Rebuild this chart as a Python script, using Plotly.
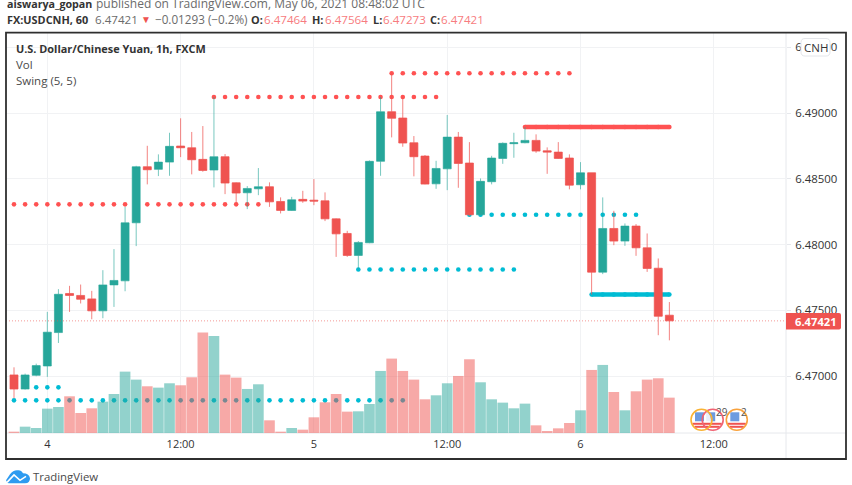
import plotly.graph_objects as go

hours = list(range(-3, 57))
opens = [6.47010,6.46903,6.47007,6.47078,6.47332,6.47629,6.47614,6.47588,6.47497,6.47694,
         6.47725,6.48166,6.48592,6.48572,6.48627,6.48749,6.48736,6.48648,6.48567,6.48668,
         6.48470,6.48394,6.48424,6.48440,6.48328,6.48260,6.48344,6.48338,6.48333,6.48196,
         6.48085,6.47918,6.48014,6.48633,6.49010,6.48962,6.48774,6.48673,6.48462,6.48576,
         6.48817,6.48620,6.48227,6.48478,6.48655,6.48767,6.48774,6.48792,6.48713,6.48703,
         6.48658,6.48455,6.48546,6.47791,6.48123,6.48027,6.48141,6.47976,6.47821,6.47464]
highs = [6.47068,6.47020,6.47096,6.47489,6.47662,6.47687,6.47697,6.47649,6.47806,6.47966,
         6.48287,6.48599,6.48751,6.48686,6.48850,6.48960,6.48856,6.48901,6.49122,6.48688,
         6.48473,6.48445,6.48582,6.48473,6.48359,6.48363,6.48409,6.48498,6.48397,6.48199,
         6.48105,6.48027,6.48640,6.49122,6.49302,6.49122,6.48825,6.48681,6.48637,6.48985,
         6.48856,6.48779,6.48503,6.48675,6.48777,6.48850,6.48894,6.48838,6.48739,6.48779,
         6.48686,6.48627,6.48546,6.48359,6.48257,6.48161,6.48156,6.48085,6.47895,6.47564]
lows = [6.46833,6.46899,6.47000,6.46995,6.47253,6.47489,6.47553,6.47433,6.47441,6.47527,
        6.47646,6.47989,6.48458,6.48521,6.48523,6.48665,6.48534,6.48554,6.48435,6.48384,
        6.48308,6.48270,6.48376,6.48287,6.48237,6.48257,6.48318,6.48300,6.48179,6.47907,
        6.47907,6.47811,6.48011,6.48523,6.48815,6.48744,6.48519,6.48458,6.48424,6.48414,
        6.48432,6.48217,6.48222,6.48458,6.48614,6.48660,6.48770,6.48698,6.48538,6.48652,
        6.48420,6.48420,6.47621,6.47776,6.47996,6.47991,6.47915,6.47793,6.47312,6.47273]
closes = [6.46903,6.47010,6.47081,6.47335,6.47623,6.47614,6.47585,6.47497,6.47694,6.47728,
          6.48166,6.48592,6.48569,6.48627,6.48747,6.48736,6.48645,6.48564,6.48668,6.48468,
          6.48392,6.48427,6.48440,6.48325,6.48260,6.48341,6.48331,6.48331,6.48196,6.48082,
          6.47918,6.48017,6.48633,6.49010,6.48960,6.48772,6.48668,6.48460,6.48579,6.48817,
          6.48617,6.48227,6.48481,6.48658,6.48770,6.48774,6.48792,6.48711,6.48703,6.48655,
          6.48452,6.48546,6.47791,6.48123,6.48027,6.48141,6.47976,6.47819,6.47456,6.47421]
volumes = [4,19,15,73,78,110,60,74,94,117,184,160,140,136,149,143,167,301,291,175,
           166,132,146,38,4,15,10,47,92,117,64,65,87,186,223,186,160,101,113,149,
           171,221,152,101,91,74,88,23,6,14,30,68,189,204,123,68,125,160,164,106]

swing_levels = [
    (6.48306, -3, 7, "red"), (6.48306, 9, 19, "red"),
    (6.49122, 15, 35, "red"), (6.49302, 31, 47, "red"),
    (6.48227, 38, 53, "teal"), (6.47811, 28, 42, "teal"),
    (6.46916, -1, 1, "teal"), (6.46817, -3, 32, "teal"),
]
swing_thick = [(6.48894, 43, 56, "red"), (6.47621, 49, 56, "teal")]

ytick_values = [6.47, 6.475, 6.48, 6.485, 6.49, 6.495]
xtick_values = [0, 12, 24, 36, 48, 60]
xtick_labels = ["4", "12:00", "5", "12:00", "6", "12:00"]
last_price = 6.47421

GREEN, RED = "#26A69A", "#EF5350"
DOT = {"red": "#FF5252", "teal": "#00BCD4"}
W, H = 852, 485
L, R, T, B = 6, 786, 33, 432.7
FONT = "Open Sans"
YR = [6.46569, 6.49608]

def px(x): return (x - L) / (R - L)
def py(y): return (B - y) / (B - T)

fig = go.Figure()

for lvl, a, b, c in swing_levels:
    xs = list(range(a, b + 1))
    fig.add_trace(go.Scatter(x=xs, y=[lvl] * len(xs), mode="markers", yaxis="y",
                             marker=dict(size=4.6, color=DOT[c], line=dict(width=0)),
                             showlegend=False, hoverinfo="skip"))
for lvl, a, b, c in swing_thick:
    xs = list(range(a, b + 1))
    fig.add_trace(go.Scatter(x=xs, y=[lvl] * len(xs), mode="lines+markers", yaxis="y",
                             line=dict(color=DOT[c], width=4.6),
                             marker=dict(size=4.6, color=DOT[c], line=dict(width=0)),
                             showlegend=False, hoverinfo="skip"))

vol_colors = ["rgba(38,166,154,0.5)" if c >= o else "rgba(239,83,80,0.5)"
              for o, c in zip(opens, closes)]
fig.add_trace(go.Bar(x=hours, y=volumes, yaxis="y2", marker=dict(color=vol_colors, line=dict(width=0)),
                     showlegend=False, hoverinfo="skip"))

fig.add_trace(go.Candlestick(
    x=hours, open=opens, high=highs, low=lows, close=closes, yaxis="y3",
    increasing=dict(line=dict(color="rgba(38,166,154,0.62)", width=1), fillcolor=GREEN),
    decreasing=dict(line=dict(color="rgba(239,83,80,0.72)", width=1), fillcolor=RED),
    whiskerwidth=0, showlegend=False, hoverinfo="skip"))

def rect(x0, y0, x1, y1, **kw):
    return dict(type="rect", xref="paper", yref="paper", x0=px(x0), x1=px(x1), y0=py(y0), y1=py(y1), **kw)

def hline(x0, y0, x1, y1, color, width, dash="solid", layer="below"):
    return dict(type="line", xref="paper", yref="paper", x0=px(x0), x1=px(x1), y0=py(y0), y1=py(y1),
                line=dict(color=color, width=width, dash=dash), layer=layer)

def circle(cx, cy, r, **kw):
    return dict(type="circle", xref="paper", yref="paper", x0=px(cx - r), x1=px(cx + r),
                y0=py(cy + r), y1=py(cy - r), **kw)

def rounded(x0, y0, x1, y1, r, l_round=True, **kw):
    X, Y = px, py
    if l_round:
        path = (f"M{X(x0+r)},{Y(y0)} L{X(x1-r)},{Y(y0)} Q{X(x1)},{Y(y0)} {X(x1)},{Y(y0+r)} L{X(x1)},{Y(y1-r)} "
                f"Q{X(x1)},{Y(y1)} {X(x1-r)},{Y(y1)} L{X(x0+r)},{Y(y1)} Q{X(x0)},{Y(y1)} {X(x0)},{Y(y1-r)} "
                f"L{X(x0)},{Y(y0+r)} Q{X(x0)},{Y(y0)} {X(x0+r)},{Y(y0)} Z")
    else:
        path = (f"M{X(x0)},{Y(y0)} L{X(x1-r)},{Y(y0)} Q{X(x1)},{Y(y0)} {X(x1)},{Y(y0+r)} L{X(x1)},{Y(y1-r)} "
                f"Q{X(x1)},{Y(y1)} {X(x1-r)},{Y(y1)} L{X(x0)},{Y(y1)} Z")
    return dict(type="path", xref="paper", yref="paper", path=path, **kw)

shapes = [
    dict(type="line", xref="paper", yref="y", x0=0, x1=1, y0=last_price, y1=last_price,
         line=dict(color="rgba(239,83,80,0.6)", width=1, dash="1px,2px"), layer="above"),
    hline(6, B, 846, B, "#E6E8EC", 1),
    hline(R, 33, R, 459, "#E6E8EC", 1),
    rect(6, 32.7, 846, 458.7, line=dict(color="#2f2f2f", width=1.8), fillcolor="rgba(0,0,0,0)", layer="above"),
    rounded(801, 38.5, 830, 56, 4, fillcolor="white", line=dict(color="#E4E6EA", width=1), layer="above"),
    rounded(R, 312.7, 841, 329.3, 2, l_round=False, fillcolor=RED, line=dict(width=0), layer="above"),
]

# economic-event flag badges: fills and flags first, rings on top
badges = [(712.7, "#F06373"), (701.5, "#F9B233"), (736.8, "#F9A23C")]
cy, r = 419.5, 10.5
for cx, ring in badges:
    shapes += [
        circle(cx, cy, r - 1, fillcolor="rgba(255,255,255,0.85)", line=dict(width=0), layer="above"),
        rect(cx - 9, cy + 3, cx + 9, cy + 5, fillcolor="#EF5350", line=dict(width=0), layer="above"),
        rect(cx - 7, cy + 6, cx + 7, cy + 8, fillcolor="#EF5350", line=dict(width=0), layer="above"),
        rect(cx - 6.5, cy - 7.5, cx + 2.5, cy + 1.5, fillcolor="#6C9BE0", line=dict(width=0), layer="above"),
    ]
for cx, ring in badges:
    shapes.append(circle(cx, cy, r, fillcolor="rgba(0,0,0,0)", line=dict(color=ring, width=1.6), layer="above"))

# TradingView logo
X, Y = px, py
cloud = (f"M{X(6)},{Y(480)} L{X(10)},{Y(474)} Q{X(13)},{Y(470)} {X(17)},{Y(470)} Q{X(21)},{Y(469)} {X(23)},{Y(473)} "
         f"Q{X(29)},{Y(473)} {X(30)},{Y(478)} Q{X(30)},{Y(483)} {X(25)},{Y(483)} L{X(9)},{Y(483)} Q{X(7)},{Y(483)} {X(6)},{Y(480)} Z")
zig = f"M{X(7)},{Y(482)} L{X(14)},{Y(474.5)} L{X(20)},{Y(480)} L{X(26)},{Y(476)}"
shapes += [
    dict(type="path", xref="paper", yref="paper", path=cloud, fillcolor="#2E9BF0", line=dict(width=0), layer="above"),
    dict(type="path", xref="paper", yref="paper", path=zig, line=dict(color="white", width=1.6), layer="above"),
]

def note(x, y, text, size=11.5, color="#333333", anchor="left"):
    return dict(xref="paper", yref="paper", x=px(x), y=py(y), text=text, showarrow=False,
                xanchor=anchor, yanchor="middle", align=anchor,
                font=dict(family=FONT, size=size, color=color), borderpad=0)

VAL = "#F77C80"
GRY = "#6b6b6b"
annotations = [
    note(6, 4, "<b>aiswarya_gopan</b>", 10.7),
    note(95, 4, "published on TradingView.com, May 06, 2021 08:48:02 UTC", 12, GRY),
    note(6, 19.5, "<b>FX:USDCNH, 60</b>", 10.9),
    note(94, 19.5, "6.47421", 11.6, GRY),
    note(140, 19.5, "▼", 10, RED),
    note(153.5, 19.5, "−0.01293 (−0.2%)", 11.7, GRY),
    note(250, 19.5, "<b>O:</b>", 10.9), note(263, 19.5, "6.47464", 11.6, VAL),
    note(311, 19.5, "<b>H:</b>", 10.9), note(324, 19.5, "6.47564", 11.6, VAL),
    note(372, 19.5, "<b>L:</b>", 10.9), note(382, 19.5, "6.47273", 11.6, VAL),
    note(429, 19.5, "<b>C:</b>", 10.9), note(440, 19.5, "6.47421", 11.6, VAL),
    note(14.5, 48.5, "<b>U.S. Dollar/Chinese Yuan, 1h, FXCM</b>", 10.9, "#333333"),
    note(14.5, 64.5, "Vol", 11.5, "#4a4a4a"),
    note(14.5, 80.5, "Swing (5, 5)", 11.5, "#4a4a4a"),
    note(815.5, 47.5, "CNH", 11.5, "#333333", "center"),
    note(815.7, 321, "<b>6.47421</b>", 11.2, "white", "center"),
    note(722, 411.7, "29", 10, "#555555", "center"),
    note(744.3, 411.7, "2", 10, "#555555", "center"),
    note(31.5, 476, "TradingView", 11.4, "#4a4a4a"),
]

fig.update_layout(
    width=W, height=H, paper_bgcolor="white", plot_bgcolor="white",
    margin=dict(l=L, r=W - R, t=T, b=H - B, autoexpand=False),
    font=dict(family=FONT, color="#333333"),
    showlegend=False, bargap=0.04, boxgap=0.28, boxgroupgap=0,
    xaxis=dict(range=[-3.72, 66.5], tickmode="array", tickvals=xtick_values, ticktext=xtick_labels,
               showgrid=True, gridcolor="#F1F2F4", gridwidth=1, zeroline=False, showline=False,
               ticks="outside", ticklen=1, tickcolor="rgba(0,0,0,0)", tickfont=dict(size=11, family=FONT, color="#333333"),
               rangeslider=dict(visible=False), fixedrange=True),
    yaxis=dict(range=YR, side="right", tickmode="array", tickvals=ytick_values, tickformat=".5f",
               showgrid=True, gridcolor="#F1F2F4", gridwidth=1, zeroline=False, showline=False,
               ticks="outside", ticklen=4, tickcolor="#E6E8EC", ticklabelstandoff=2,
               tickfont=dict(size=11.4, family=FONT, color="#333333"), fixedrange=True),
    yaxis2=dict(range=[0, 1199], overlaying="y", side="left", visible=False, fixedrange=True),
    yaxis3=dict(range=YR, overlaying="y", side="left", visible=False, fixedrange=True),
    shapes=shapes, annotations=annotations,
)

fig.write_html("out.html", config=dict(displayModeBar=False),
               post_script="document.body.style.margin='0';document.body.style.overflow='hidden';")
